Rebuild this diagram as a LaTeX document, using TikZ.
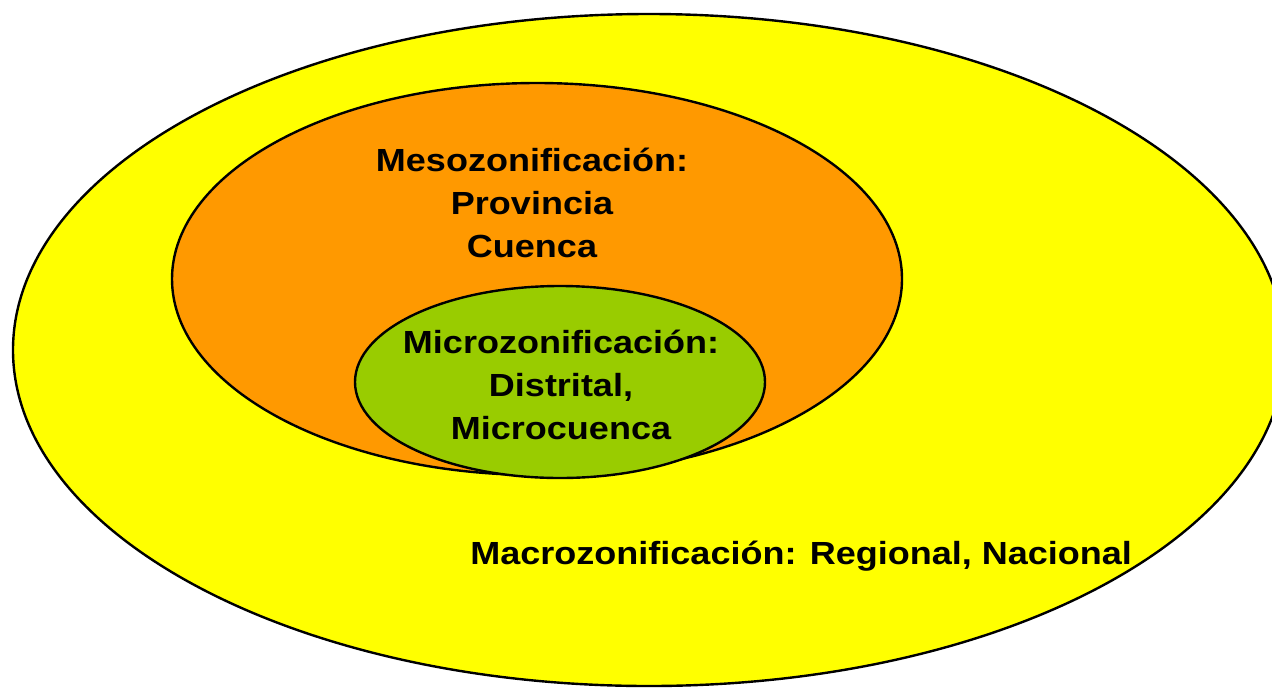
\documentclass[tikz,border=0pt]{standalone}
\usepackage{fontspec}
\setmainfont{Liberation Sans}
\usetikzlibrary{shapes.geometric}
\definecolor{outery}{HTML}{FFFF00}
\definecolor{mesoor}{HTML}{FF9900}
\definecolor{microg}{HTML}{99CC00}
\begin{document}
\begin{tikzpicture}[x=0.5pt,y=-0.5pt,
  zone/.style={ellipse,draw=black,line width=1.2pt,inner sep=0pt},
  lbl/.style={font=\bfseries\fontsize{16}{21.5}\selectfont,align=center,text=black,inner sep=0pt,xscale=1.125,transform shape}]
\useasboundingbox (0,0) rectangle (1272,691);
\clip (0,0) rectangle (1272,691);
\fill[white] (0,0) rectangle (1272,691);
\node[zone,fill=outery,minimum width=636pt,minimum height=336pt] (macro) at (649,350) {};
\node[zone,fill=mesoor,minimum width=365pt,minimum height=196pt] (meso) at (537,279) {};
\node[zone,fill=microg,minimum width=205pt,minimum height=96pt] (micro) at (560,382) {};
\node[lbl] (mesot) at (532,203) {Mesozonificación:\\Provincia\\Cuenca};
\node[lbl] (microt) at (561,385) {Microzonificación:\\Distrital,\\Microcuenca};
\node[lbl,anchor=west] (macrot) at (470,556) {Macrozonificación: Regional, Nacional};
\end{tikzpicture}
\end{document}
